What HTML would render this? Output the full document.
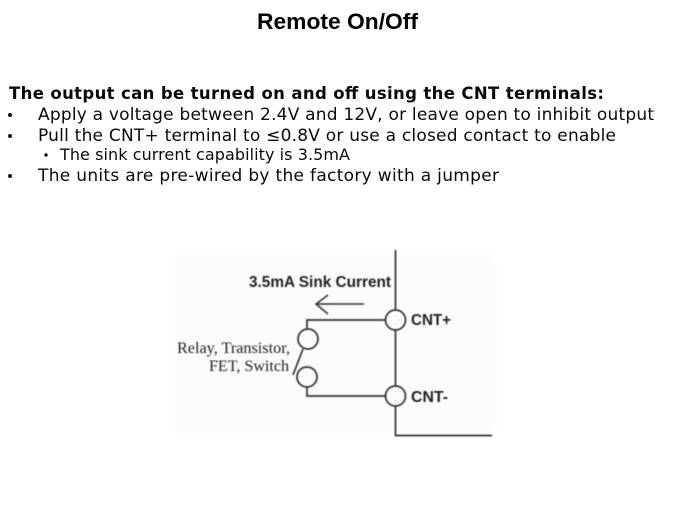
<!DOCTYPE html>
<html><head><meta charset="utf-8"><style>
html,body{margin:0;padding:0;background:#fff}
svg{display:block}
.t{font-family:"DejaVu Sans","Liberation Sans",sans-serif;font-size:17px;fill:#0a0a0a}
</style></head><body>
<svg width="675" height="506" viewBox="0 0 675 506" xmlns="http://www.w3.org/2000/svg">
<defs><filter id="bl" x="-5%" y="-5%" width="110%" height="110%"><feGaussianBlur stdDeviation="0.4"/></filter>
<filter id="bg" x="-10%" y="-10%" width="120%" height="120%"><feGaussianBlur stdDeviation="4"/></filter></defs>
<rect width="675" height="506" fill="#fff"/>
<text x="257" y="29" textLength="161" lengthAdjust="spacingAndGlyphs" style="font-family:'Liberation Sans',sans-serif;font-weight:bold;font-size:22px;fill:#000">Remote On/Off</text>
<text class="t" x="9" y="99" textLength="595" lengthAdjust="spacing" style="font-weight:bold;font-size:16.5px">The output can be turned on and off using the CNT terminals:</text>
<circle cx="10" cy="115" r="2" fill="#111"/>
<text x="38" y="120" textLength="616" lengthAdjust="spacing" class="t">Apply a voltage between 2.4V and 12V, or leave open to inhibit output</text>
<circle cx="10" cy="136" r="2" fill="#111"/>
<text x="38" y="141" textLength="578" lengthAdjust="spacing" class="t">Pull the CNT+ terminal to ≤0.8V or use a closed contact to enable</text>
<circle cx="46" cy="155" r="1.7" fill="#111"/>
<text x="60" y="160" textLength="290" lengthAdjust="spacing" class="t" style="font-size:16px">The sink current capability is 3.5mA</text>
<circle cx="10" cy="176" r="2" fill="#111"/>
<text x="38" y="181" textLength="461" lengthAdjust="spacing" class="t">The units are pre-wired by the factory with a jumper</text>
<rect x="176" y="254" width="318" height="182" fill="#fbfbfa" filter="url(#bg)"/>
<g filter="url(#bl)">
<g fill="none" stroke="#333" stroke-width="1.7">
<path d="M395.5 250V310M395.5 330V386M395.5 406V435.5H492"/>
<circle cx="395.5" cy="320" r="10"/>
<circle cx="395.5" cy="396" r="10"/>
<path d="M385.5 320H307V329M307 387V396H385.5"/>
<circle cx="308" cy="339" r="10"/>
<circle cx="307" cy="377" r="10"/>
<path d="M303 349L293 375"/>
<path d="M364 304H316M328 295L316 304L328 314" stroke-width="1.5"/>
</g>
<g font-family="'Liberation Sans',sans-serif" font-weight="bold" fill="#222">
<text x="249" y="287" font-size="15.5" textLength="142" lengthAdjust="spacingAndGlyphs">3.5mA Sink Current</text>
<text x="411" y="325" font-size="15.5" textLength="40" lengthAdjust="spacingAndGlyphs">CNT+</text>
<text x="411" y="402" font-size="15.5" textLength="37" lengthAdjust="spacingAndGlyphs">CNT-</text>
</g>
<g font-family="'Liberation Serif',serif" fill="#222" font-size="15.5">
<text x="177" y="353" textLength="113" lengthAdjust="spacingAndGlyphs">Relay, Transistor,</text>
<text x="209" y="371" textLength="80" lengthAdjust="spacingAndGlyphs">FET, Switch</text>
</g>
</g>
</svg>
</body></html>
